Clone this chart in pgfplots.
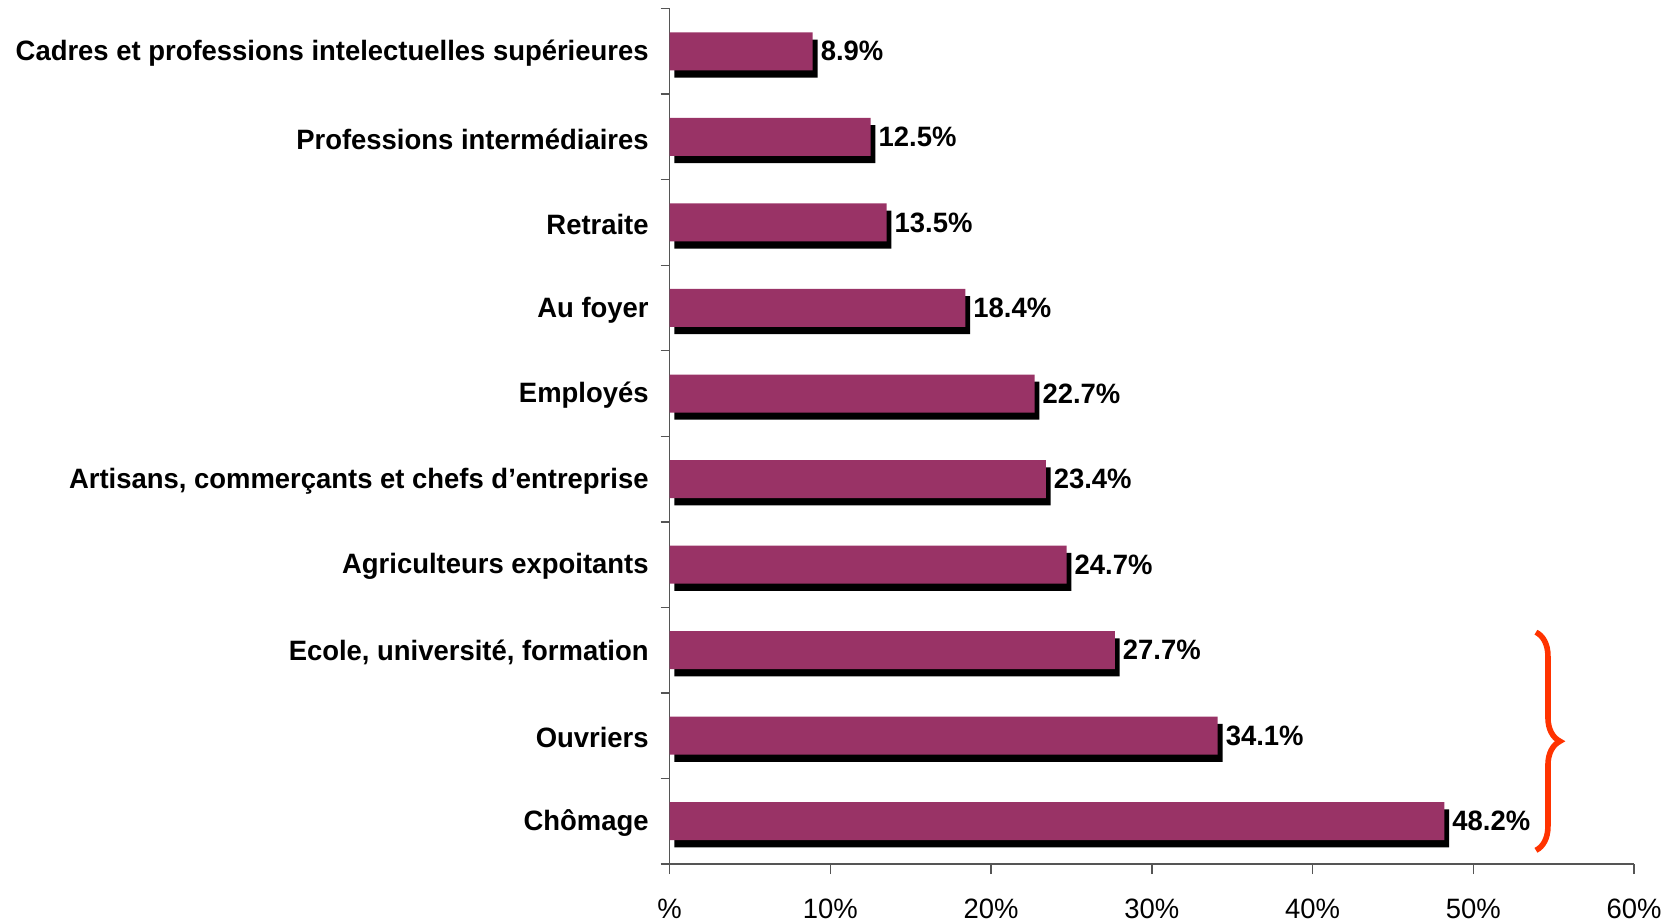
\documentclass[border=0pt]{standalone}
\usepackage{fontspec}
\setmainfont{Liberation Sans}[FakeStretch=0.98]
\usepackage{pgfplots}
\pgfplotsset{compat=1.18}
\usetikzlibrary{decorations.pathreplacing}
\definecolor{barpurple}{HTML}{993366}
\definecolor{bracered}{HTML}{FF3300}
\definecolor{axgray}{HTML}{555555}
\begin{document}
\begin{tikzpicture}
\path[use as bounding box] (-334.85pt,-29.5pt) rectangle (497.65pt,432pt);
\begin{axis}[
  at={(0pt,0pt)}, anchor=south west,
  scale only axis,
  width=482.15pt, height=427.7pt,
  xmin=0, xmax=60, ymin=-0.5, ymax=9.5,
  axis lines=left,
  axis line style={-, draw=axgray, line width=0.7pt},
  xtick={0,10,...,60},
  xticklabels={\%,10\%,20\%,30\%,40\%,50\%,60\%},
  ytick={0,...,9},
  yticklabels={Chômage,Ouvriers,{Ecole, université, formation},Agriculteurs expoitants,{Artisans, commerçants et chefs d'entreprise},Employés,Au foyer,Retraite,Professions intermédiaires,Cadres et professions intelectuelles supérieures},
  minor ytick={-0.5,0.5,...,9.5},
  tick align=outside,
  major tick length=5pt,
  minor tick length=4.5pt,
  major y tick style={draw=none},
  minor y tick style={draw=axgray, line width=0.7pt},
  major x tick style={draw=axgray, line width=0.7pt},
  xticklabel style={font=\fontsize{14}{16}\selectfont, yshift=-9pt},
  yticklabel style={font=\bfseries\fontsize{14}{16}\selectfont, xshift=-2pt, yshift=-1pt},
  /pgf/number format/assume math mode=true,
  xbar, bar width=19pt,
  clip=false,
]
\addplot[draw=none, fill=black, bar shift=0pt, xshift=2.4pt, yshift=-3.6pt] coordinates {
  (48.2,0) (34.1,1) (27.7,2) (24.7,3) (23.4,4) (22.7,5) (18.4,6) (13.5,7) (12.5,8) (8.9,9)
};
\addplot[draw=none, fill=barpurple, bar shift=0pt,
  point meta=x,
  nodes near coords={\pgfmathprintnumber[fixed,precision=1,fixed zerofill]{\pgfplotspointmeta}\%},
  every node near coord/.style={font=\bfseries\fontsize{14}{16}\selectfont, anchor=west, xshift=0.5pt, text=black}
] coordinates {
  (48.2,0) (34.1,1) (27.7,2) (24.7,3) (23.4,4) (22.7,5) (18.4,6) (13.5,7) (12.5,8) (8.9,9)
};
\draw[bracered, line width=2.8pt, decorate, decoration={brace, amplitude=12pt}]
  (axis cs:53.9,2.21) -- (axis cs:53.9,-0.34);
\end{axis}
\end{tikzpicture}
\end{document}
